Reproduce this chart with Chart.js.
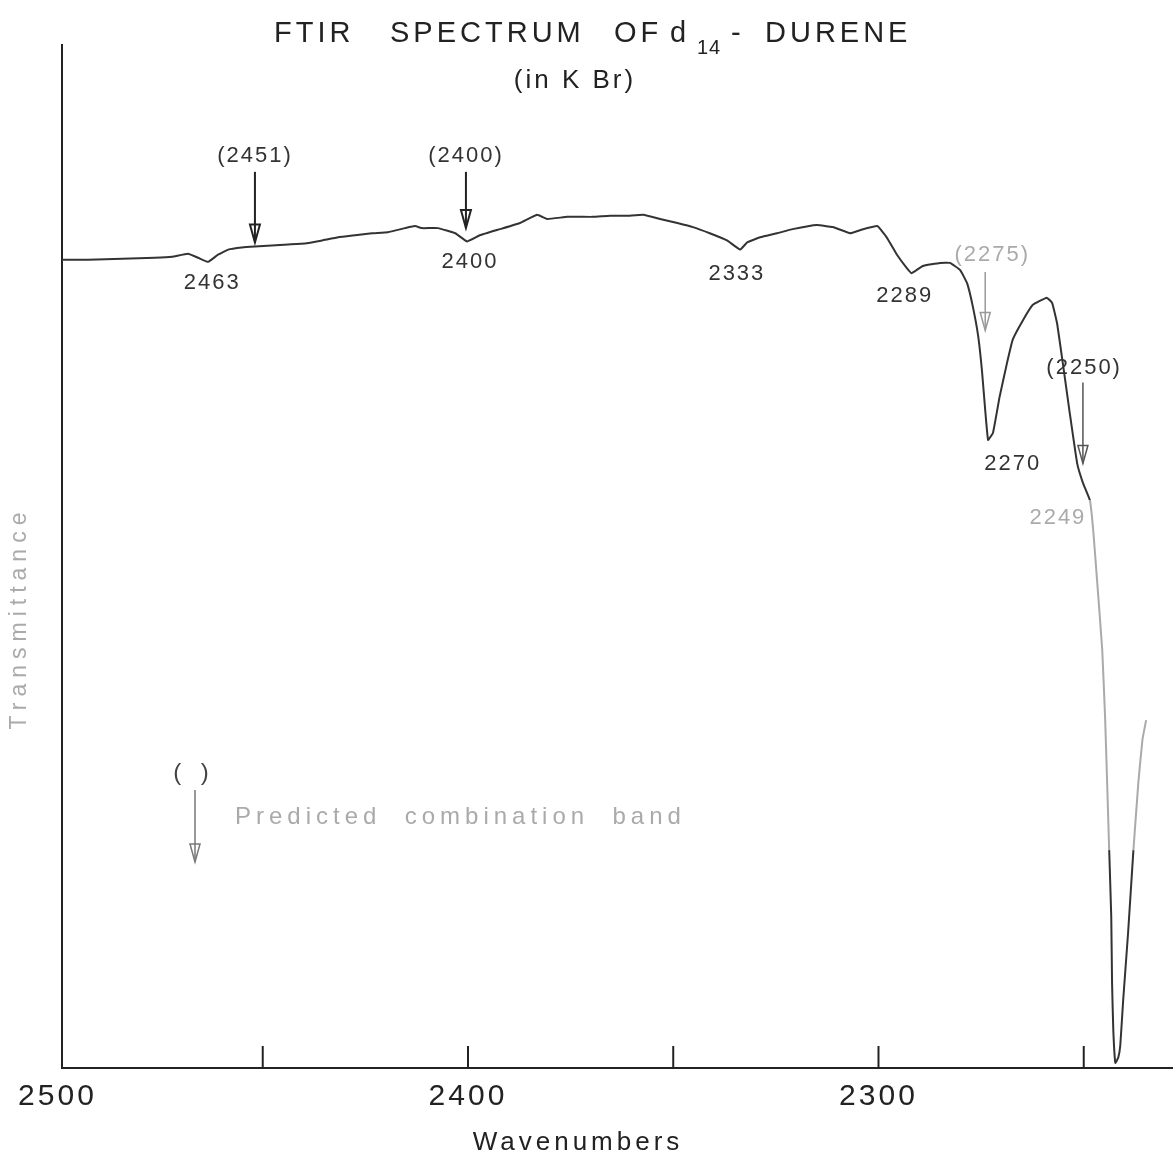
<!DOCTYPE html>
<html>
<head>
<meta charset="utf-8">
<script src="https://cdn.jsdelivr.net/npm/chart.js@4.4.1/dist/chart.umd.min.js"></script>
<style>
  html, body { margin: 0; padding: 0; background: #fff; }
  #wrap { width: 1175px; height: 1173px; position: relative; }
</style>
</head>
<body>
<div id="wrap"><canvas id="chart"></canvas></div>
<script>
// spectrum (wavenumber, transmittance %)
const wavenumbers = [
  2498.9, 2492.5, 2484.2, 2476.3, 2472.1, 2468.2, 2465.7, 2463.3, 2460.9, 2458.4,
  2455.1, 2451.9, 2447.8, 2443.8, 2439.7, 2435.5, 2431.6, 2427.5, 2423.4, 2419.5,
  2415.3, 2412.9, 2411.2, 2407.3, 2403.1, 2400.2, 2397.1, 2392.2, 2387.3, 2383.2,
  2380.7, 2375.8, 2369.6, 2365.4, 2361.3, 2357.3, 2353.2, 2349.0, 2345.2, 2341.1,
  2336.9, 2333.7, 2332.0, 2328.8, 2324.7, 2320.9, 2315.0, 2311.1, 2306.9, 2304.5,
  2300.3, 2298.0, 2295.5, 2293.1, 2291.9, 2289.2, 2285.0, 2282.6, 2280.1, 2278.4,
  2277.0, 2275.7, 2274.8, 2274.0, 2273.3, 2272.1, 2270.5, 2268.7, 2267.3, 2264.8,
  2262.4, 2259.0, 2257.7, 2256.5, 2255.1, 2253.4, 2251.6, 2250.2, 2248.5, 2247.7,
  2246.7, 2245.5, 2244.8, 2244.3, 2243.8, 2243.3, 2243.1, 2242.8, 2242.3, 2241.6,
  2241.1, 2240.4, 2239.2, 2237.9, 2236.7, 2235.7, 2234.8
];
const transmittance = [
  79.0, 79.0, 79.1, 79.2, 79.3, 79.6, 79.2, 78.8, 79.5, 80.0,
  80.2, 80.3, 80.4, 80.5, 80.6, 80.9, 81.2, 81.4, 81.6, 81.7,
  82.1, 82.3, 82.1, 82.1, 81.6, 80.8, 81.4, 82.0, 82.6, 83.4,
  83.0, 83.2, 83.2, 83.3, 83.3, 83.4, 83.0, 82.6, 82.2, 81.6,
  80.9, 80.0, 80.7, 81.2, 81.6, 82.0, 82.4, 82.2, 81.6, 81.9,
  82.3, 81.2, 79.5, 78.2, 77.7, 78.4, 78.7, 78.7, 78.0, 76.7,
  74.4, 71.5, 68.2, 64.3, 61.4, 62.1, 65.6, 68.9, 71.2, 73.1,
  74.6, 75.3, 74.8, 72.8, 68.9, 64.0, 59.1, 57.2, 55.5, 52.6,
  47.4, 40.9, 34.3, 27.9, 21.3, 14.8, 8.3, 3.7, 0.5, 1.0,
  2.2, 6.6, 13.2, 21.3, 27.9, 32.1, 34.0
];

const tickLabels = [2500, 2400, 2300];
const tickMarks = [2450, 2400, 2350, 2300, 2250];

// observed band labels
const peakText = ['2463', '2400', '2333', '2289', '2270', '2249'];
const peakX = [2462.3, 2399.5, 2334.5, 2293.6, 2267.3, 2256.3];
const peakY = [76.7, 78.8, 77.6, 75.5, 59.0, 53.8];

// predicted combination bands (arrows)
const predText = ['(2451)', '(2400)', '(2275)', '(2250)'];
const predTextX = [2451.9, 2400.5, 2272.3, 2249.9];
const predTextY = [89.2, 89.2, 79.5, 68.4];
const predArrowX = [2451.9, 2400.5, 2274.0, 2250.2];
const predArrowTop = [87.6, 87.6, 77.8, 67.0];
const predArrowTip = [80.7, 82.1, 72.1, 59.1];

const FONT = '"Liberation Sans", Arial, sans-serif';
const faintRanges = [[2243.8, 2248.6], [2225, 2237.9]];
const isFaint = (a, b) => faintRanges.some(r => Math.min(a, b) >= r[0] && Math.max(a, b) <= r[1]);

function arrow(ctx, px, y0, y1, color, lw) {
  ctx.strokeStyle = color;
  ctx.lineWidth = lw;
  ctx.beginPath();
  ctx.moveTo(px, y0);
  ctx.lineTo(px, y1);
  ctx.stroke();
  ctx.beginPath();
  ctx.moveTo(px - 5, y1 - 18);
  ctx.lineTo(px + 5, y1 - 18);
  ctx.lineTo(px, y1);
  ctx.closePath();
  ctx.stroke();
}

const decor = {
  id: 'decor',
  beforeDraw(chart) {
    chart.ctx.letterSpacing = '3px';
  },
  afterDraw(chart) {
    const { ctx, scales: { x, y } } = chart;
    ctx.save();

    // inward tick marks on the wavenumber axis
    ctx.strokeStyle = '#222';
    ctx.lineWidth = 2;
    tickMarks.forEach(v => {
      const px = x.getPixelForValue(v);
      ctx.beginPath();
      ctx.moveTo(px, y.bottom);
      ctx.lineTo(px, y.bottom - 22);
      ctx.stroke();
    });

    // title
    ctx.fillStyle = '#222';
    ctx.textBaseline = 'alphabetic';
    ctx.textAlign = 'left';
    ctx.letterSpacing = '4px';
    ctx.font = '29px ' + FONT;
    ctx.fillText('FTIR', 274, 42);
    ctx.fillText('SPECTRUM', 390, 42);
    ctx.fillText('OF', 614, 42);
    ctx.fillText('d', 670, 42);
    ctx.fillText('-', 731, 42);
    ctx.fillText('DURENE', 765, 42);
    ctx.font = '20px ' + FONT;
    ctx.letterSpacing = '1px';
    ctx.fillText('14', 697, 54);
    ctx.letterSpacing = '3px';
    ctx.font = '26px ' + FONT;
    ctx.textAlign = 'center';
    ctx.fillText('(in K Br)', 575, 88);

    // axis titles
    ctx.font = '26px ' + FONT;
    ctx.letterSpacing = '4px';
    ctx.fillText('Wavenumbers', 578, 1150);

    ctx.save();
    ctx.translate(20, 618);
    ctx.rotate(-Math.PI / 2);
    ctx.fillStyle = '#aaa';
    ctx.font = '23px ' + FONT;
    ctx.letterSpacing = '6px';
    ctx.textBaseline = 'middle';
    ctx.fillText('Transmittance', 0, 0);
    ctx.restore();

    // band labels
    ctx.textBaseline = 'middle';
    ctx.font = '22px ' + FONT;
    ctx.letterSpacing = '2px';
    peakText.forEach((t, i) => {
      ctx.fillStyle = i === 5 ? '#aaa' : '#333';
      ctx.fillText(t, x.getPixelForValue(peakX[i]), y.getPixelForValue(peakY[i]));
    });
    predText.forEach((t, i) => {
      ctx.fillStyle = i === 2 ? '#aaa' : '#333';
      ctx.fillText(t, x.getPixelForValue(predTextX[i]), y.getPixelForValue(predTextY[i]));
      arrow(ctx, x.getPixelForValue(predArrowX[i]), y.getPixelForValue(predArrowTop[i]),
        y.getPixelForValue(predArrowTip[i]), i === 2 ? '#999' : (i === 3 ? '#555' : '#222'), i >= 2 ? 1.5 : 2);
    });

    // key
    ctx.fillStyle = '#444';
    ctx.font = '24px ' + FONT;
    ctx.fillText('(  )', 192, 773);
    arrow(ctx, 195, 790, 862, '#777', 1.5);
    ctx.fillStyle = '#aaa';
    ctx.textAlign = 'left';
    ctx.letterSpacing = '5px';
    ctx.fillText('Predicted  combination  band', 235, 817);

    ctx.restore();
  }
};

new Chart(document.getElementById('chart'), {
  type: 'line',
  data: {
    datasets: [{
      label: 'd14-durene',
      data: wavenumbers.map((w, i) => ({ x: w, y: transmittance[i] })),
      borderColor: '#333',
      borderWidth: 2,
      pointRadius: 0,
      tension: 0.1,
      segment: {
        borderColor: c => isFaint(c.p0.parsed.x, c.p1.parsed.x) ? '#aaa' : '#333'
      }
    }]
  },
  options: {
    responsive: true,
    maintainAspectRatio: false,
    animation: false,
    layout: { padding: { left: 62, right: 3, top: 45, bottom: 47 } },
    plugins: {
      legend: { display: false },
      tooltip: { enabled: false },
      title: { display: false }
    },
    scales: {
      x: {
        type: 'linear',
        reverse: true,
        min: 2228.5,
        max: 2498.9,
        afterBuildTicks: s => { s.ticks = tickLabels.map(v => ({ value: v })); },
        grid: { display: false, drawTicks: false },
        border: { display: true, color: '#222', width: 2 },
        ticks: {
          color: '#222',
          font: { family: FONT, size: 30 },
          padding: 11,
          maxRotation: 0,
          autoSkip: false,
          callback: v => String(v)
        }
      },
      y: {
        min: 0,
        max: 100,
        grid: { display: false, drawTicks: false },
        border: { display: true, color: '#222', width: 2 },
        ticks: { display: false }
      }
    }
  },
  plugins: [decor]
});
</script>
</body>
</html>
